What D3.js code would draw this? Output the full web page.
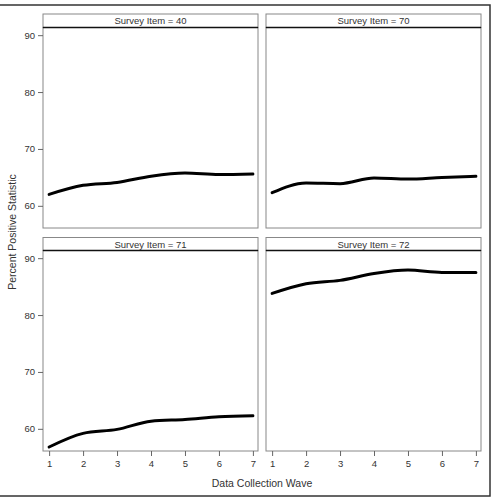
<!DOCTYPE html>
<html>
<head>
<meta charset="utf-8">
<script src="https://cdn.jsdelivr.net/npm/d3@7"></script>
<style>
  body { margin: 0; background: #fff; }
  svg text { font-family: "Liberation Sans", Arial, sans-serif; fill: #333; }
</style>
</head>
<body>
<div id="chart"></div>
<script>
const waves = [1, 2, 3, 4, 5, 6, 7];
const items = ["40", "70", "71", "72"];
const item40 = [62.0, 63.6, 64.1, 65.2, 65.75, 65.5, 65.6];
const item70 = [62.3, 64.0, 63.9, 64.9, 64.7, 65.0, 65.2];
const item71 = [56.8, 59.2, 59.9, 61.35, 61.65, 62.1, 62.3];
const item72 = [83.8, 85.5, 86.1, 87.3, 87.9, 87.5, 87.5];
const yTicks = [60, 70, 80, 90];

const series = [item40, item70, item71, item72];

const width = 493, height = 500;
const svg = d3.select("#chart").append("svg")
  .attr("width", width)
  .attr("height", height);

// outer frame
svg.append("rect")
  .attr("x", -2).attr("y", 5)
  .attr("width", 492).attr("height", 491)
  .attr("fill", "none")
  .attr("stroke", "#333")
  .attr("stroke-width", 1.5);

const cols = [{ left: 43, right: 258 }, { left: 266, right: 481 }];
const rows = [{ top: 14, strip: 27.5, bottom: 228 }, { top: 237.5, strip: 250.5, bottom: 451 }];

series.forEach((vals, i) => {
  const c = cols[i % 2], r = rows[Math.floor(i / 2)];

  const x = d3.scaleLinear()
    .domain([0.82, 7.15])
    .range([c.left, c.right]);

  const y = d3.scaleLinear()
    .domain([56.1, 91.35])
    .range([r.bottom, r.strip]);

  const g = svg.append("g");

  // strip header
  g.append("rect")
    .attr("x", c.left).attr("y", r.top)
    .attr("width", c.right - c.left).attr("height", r.strip - r.top)
    .attr("fill", "#fff")
    .attr("stroke", "#888");
  g.append("text")
    .attr("x", (c.left + c.right) / 2)
    .attr("y", (r.top + r.strip) / 2 + 3.5)
    .attr("text-anchor", "middle")
    .attr("font-size", "9.5px")
    .text(`Survey Item = ${items[i]}`);

  // panel box
  g.append("rect")
    .attr("x", c.left).attr("y", r.strip)
    .attr("width", c.right - c.left).attr("height", r.bottom - r.strip)
    .attr("fill", "none")
    .attr("stroke", "#888");
  g.append("line")
    .attr("x1", c.left).attr("x2", c.right)
    .attr("y1", r.strip).attr("y2", r.strip)
    .attr("stroke", "#111")
    .attr("stroke-width", 1.5);

  // left axis only on first column
  if (i % 2 === 0) {
    const ya = g.append("g")
      .attr("transform", `translate(${c.left},0)`)
      .call(d3.axisLeft(y).tickValues(yTicks).tickSize(5).tickPadding(3));
    ya.select(".domain").remove();
    ya.selectAll("line").attr("stroke", "#666");
    ya.selectAll("text").attr("font-size", "9.5px").attr("fill", "#333")
      .attr("font-family", "Liberation Sans, Arial, sans-serif");
  }

  // bottom axis only on bottom row
  if (i >= 2) {
    const xa = g.append("g")
      .attr("transform", `translate(0,${r.bottom})`)
      .call(d3.axisBottom(x).tickValues(waves).tickFormat(d3.format("d")).tickSize(5).tickPadding(4));
    xa.select(".domain").remove();
    xa.selectAll("line").attr("stroke", "#666");
    xa.selectAll("text").attr("font-size", "9.5px").attr("fill", "#333")
      .attr("font-family", "Liberation Sans, Arial, sans-serif");
  }

  const line = d3.line()
    .x((d, k) => x(waves[k]))
    .y(d => y(d))
    .curve(d3.curveMonotoneX);

  g.append("path")
    .datum(vals)
    .attr("d", line)
    .attr("fill", "none")
    .attr("stroke", "#000")
    .attr("stroke-width", 3)
    .attr("stroke-linecap", "round");
});

// axis titles
svg.append("text")
  .attr("transform", "translate(16,232) rotate(-90)")
  .attr("text-anchor", "middle")
  .attr("font-size", "10.5px")
  .text("Percent Positive Statistic");

svg.append("text")
  .attr("x", 262)
  .attr("y", 487)
  .attr("text-anchor", "middle")
  .attr("font-size", "10.5px")
  .text("Data Collection Wave");
</script>
</body>
</html>
